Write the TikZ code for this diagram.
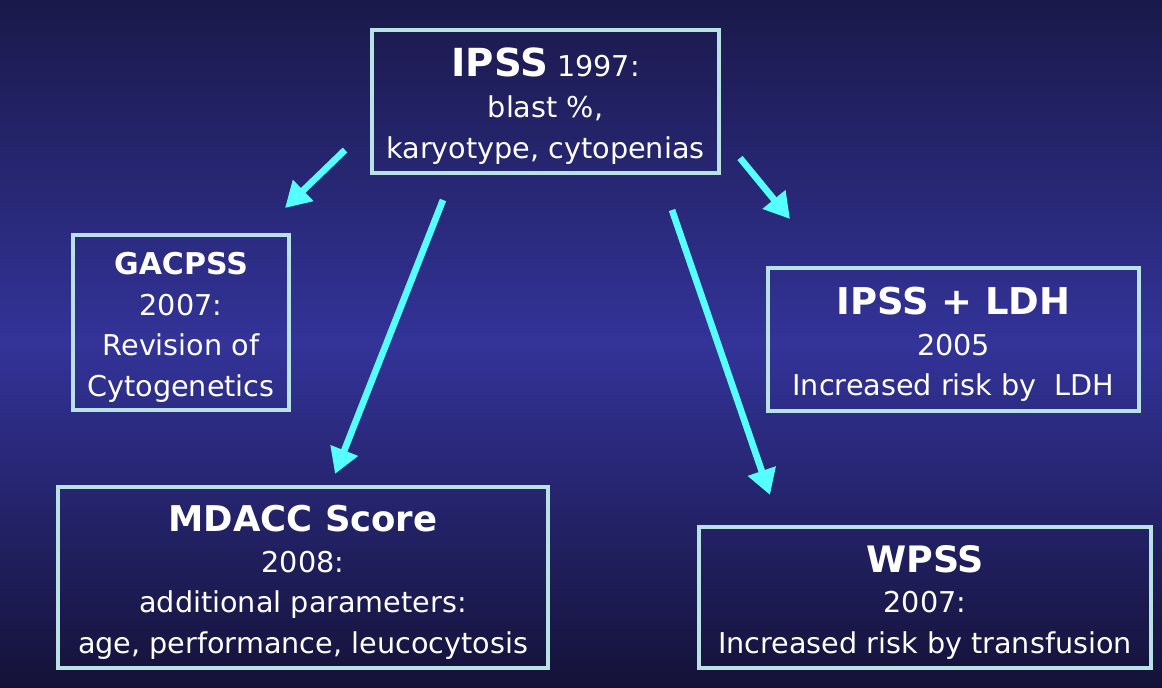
\documentclass[tikz,border=0pt]{standalone}
\usepackage{fontspec}
\setmainfont{DejaVu Sans}
\usetikzlibrary{arrows.meta}
\definecolor{bgtop}{HTML}{1A194A}
\definecolor{bgmid}{HTML}{333399}
\definecolor{bgbot}{HTML}{141238}
\definecolor{boxline}{HTML}{B8E2E4}
\definecolor{arrowc}{HTML}{55FFFF}
\tikzset{
  card/.style={draw=boxline, line width=3pt, inner sep=0pt, align=center, text=white,
    font=\fontsize{21.5}{30.5}\selectfont},
  link/.style={draw=arrowc, line width=5pt, -{Triangle[length=19pt,width=21pt]}}
}
% bold title; the strut pushes the text block down a little, as in the reference
\newcommand{\ttl}[2]{\rule{0pt}{\dimexpr 0.73\dimexpr #1pt\relax + 7.5pt\relax}{\fontsize{#1}{30}\selectfont\bfseries #2}}
\begin{document}
\begin{tikzpicture}[x=0.75pt,y=-0.75pt]
\shade[top color=bgtop, bottom color=bgbot, middle color=bgmid] (0,0) rectangle (1162,687);
\useasboundingbox (0,0) rectangle (1162,687);
\node[card, minimum width=347*0.75pt, minimum height=143*0.75pt] (ipss) at (545.5,101.5)
  {\ttl{29}{IPSS} 1997:\\ blast \%,\\ karyotype, cytopenias};
\node[card, minimum width=216*0.75pt, minimum height=175*0.75pt] (gac) at (181,322.5)
  {\ttl{22.5}{GACPSS}\\ 2007:\\ Revision of\\ Cytogenetics};
\node[card, minimum width=371*0.75pt, minimum height=143*0.75pt] (ldh) at (953.5,339.5)
  {\ttl{27.7}{IPSS + LDH}\\ 2005\\ Increased risk by~ LDH};
\node[card, minimum width=490*0.75pt, minimum height=181*0.75pt] (mda) at (303,577.5)
  {\ttl{26.6}{MDACC Score}\\ 2008:\\ additional parameters:\\ age, performance, leucocytosis};
\node[card, minimum width=452*0.75pt, minimum height=141*0.75pt] (wpss) at (925,597.5)
  {\ttl{27.3}{WPSS}\\ 2007:\\ Increased risk by transfusion};
\coordinate (a1s) at (345,150); \coordinate (a1e) at (285,208);
\coordinate (a2s) at (443,200); \coordinate (a2e) at (335,474);
\coordinate (a3s) at (672,210); \coordinate (a3e) at (770,495);
\coordinate (a4s) at (740,158); \coordinate (a4e) at (790,219);
\draw[link] (a1s) -- (a1e);
\draw[link] (a2s) -- (a2e);
\draw[link] (a3s) -- (a3e);
\draw[link] (a4s) -- (a4e);
\end{tikzpicture}
\end{document}
